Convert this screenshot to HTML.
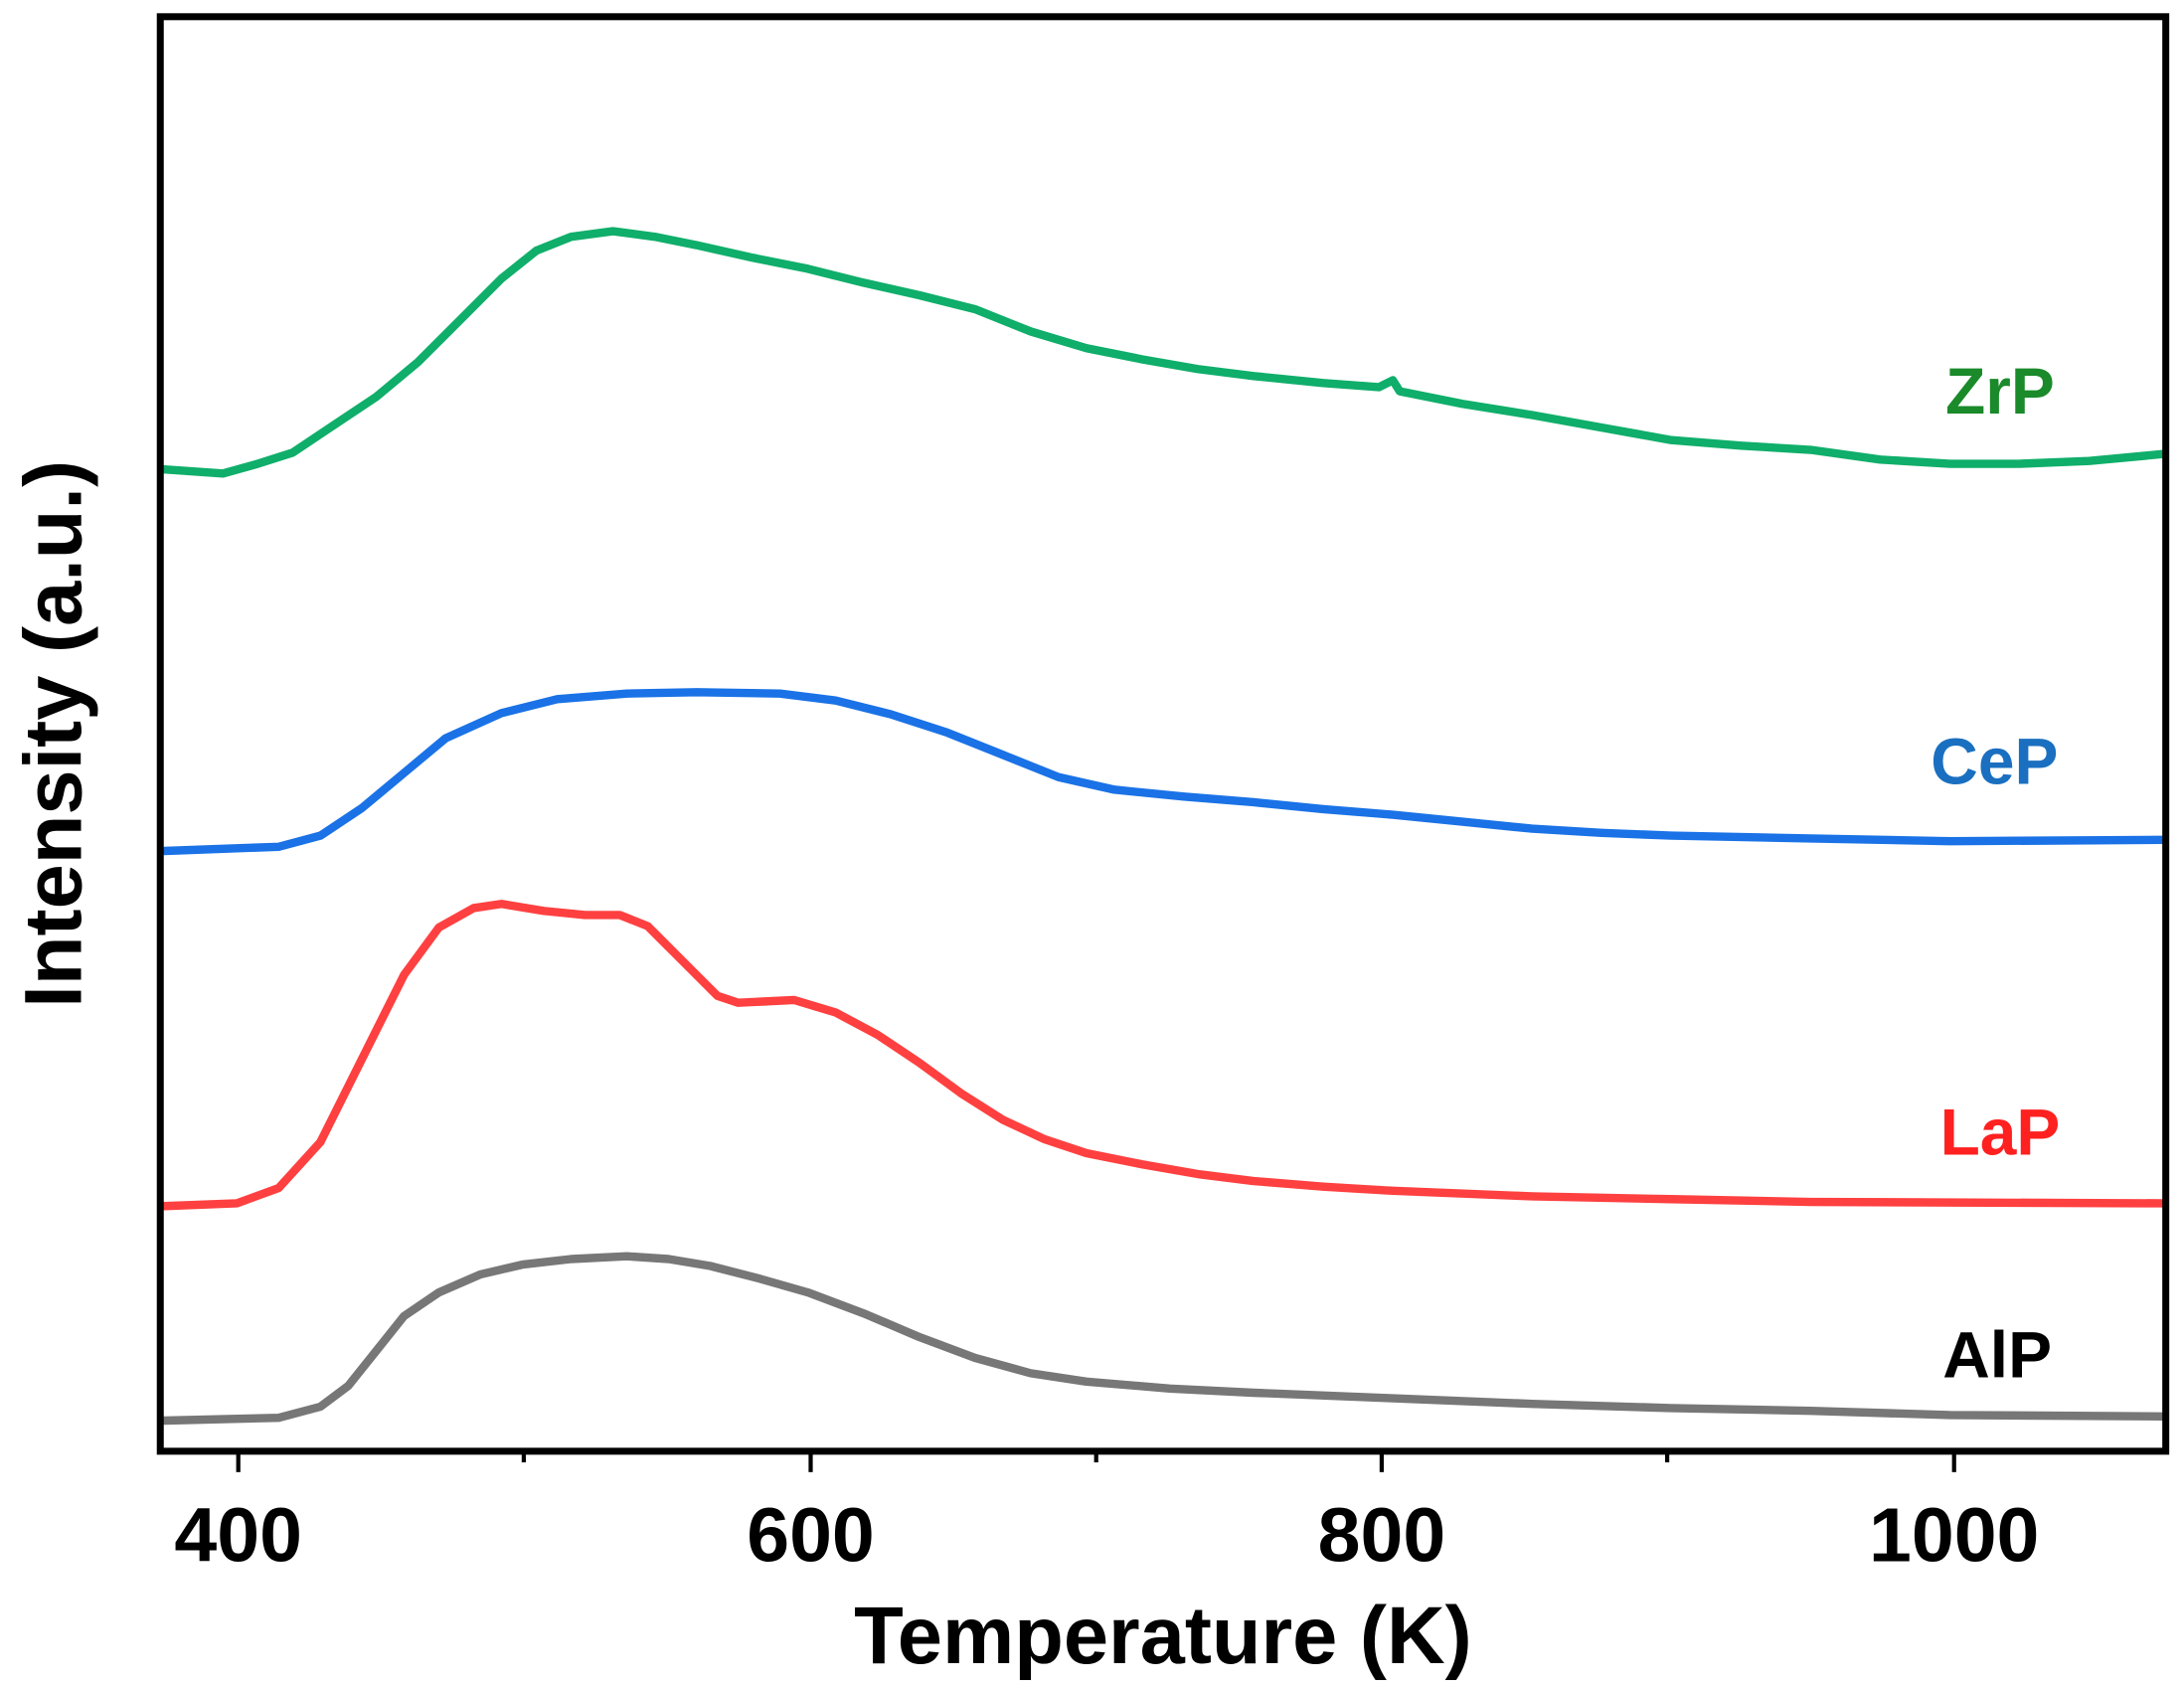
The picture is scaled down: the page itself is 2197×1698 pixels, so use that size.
<!DOCTYPE html>
<html><head><meta charset="utf-8"><style>html,body{margin:0;padding:0;background:#fff}svg{display:block}</style></head>
<body>
<svg width="2197" height="1698" viewBox="0 0 1568 1212" xmlns="http://www.w3.org/2000/svg" font-family="Liberation Sans, Arial, sans-serif" font-weight="bold">
<rect width="1568" height="1212" fill="#fff"/>
<g fill="none" stroke-width="6" stroke-linejoin="round" stroke-linecap="round">
<polyline stroke="#0fae6a" points="118,337 160,340 185,333 210,325 240,305 270,285 300,260 330,230 360,200 385,180 410,170 440,166 470,170 500,176 540,185 580,193 620,203 660,212 700,222 740,238 780,250 820,258 860,265 900,270 950,275 990,278 1000,273 1005,281 1050,290 1100,298 1150,307 1200,316 1250,320 1300,323 1350,330 1400,333 1450,333 1500,331 1553,326"/>
<polyline stroke="#1a72e6" points="118,611 200,608 230,600 260,580 290,555 320,530 360,512 400,502 450,498 500,497 560,498 600,503 640,513 680,526 720,542 760,558 800,567 850,572 900,576 950,581 1000,585 1050,590 1100,595 1150,598 1200,600 1300,602 1400,604 1553,603"/>
<polyline stroke="#ff4040" points="118,866 170,864 200,853 230,820 260,760 290,700 315,666 340,652 360,649 390,654 420,657 445,657 465,665 490,690 515,715 530,720 570,718 600,727 630,743 660,763 690,785 720,804 750,818 780,828 820,836 860,843 900,848 950,852 1000,855 1100,859 1200,861 1300,863 1553,864"/>
<polyline stroke="#777" points="118,1020 200,1018 230,1010 250,995 270,970 290,945 315,928 345,915 375,908 410,904 450,902 480,904 510,909 545,918 580,928 620,943 660,960 700,975 740,986 780,992 840,997 900,1000 1000,1004 1100,1008 1200,1011 1300,1013 1400,1016 1553,1017"/>
</g>
<rect x="115" y="12" width="1440" height="1030" fill="none" stroke="#000" stroke-width="5"/>
<g stroke="#000" stroke-width="3">
<line x1="171" y1="1042" x2="171" y2="1057"/><line x1="582" y1="1042" x2="582" y2="1057"/><line x1="992" y1="1042" x2="992" y2="1057"/><line x1="1403" y1="1042" x2="1403" y2="1057"/>
<line x1="376" y1="1042" x2="376" y2="1050"/><line x1="787" y1="1042" x2="787" y2="1050"/><line x1="1197" y1="1042" x2="1197" y2="1050"/>
</g>
<g font-size="55" text-anchor="middle" fill="#000">
<text x="171" y="1121">400</text><text x="582" y="1121">600</text><text x="992" y="1121">800</text><text x="1403" y="1121">1000</text>
</g>
<text x="835" y="1194" font-size="58" text-anchor="middle">Temperature (K)</text>
<text transform="translate(58,527) rotate(-90)" font-size="58" text-anchor="middle">Intensity (a.u.)</text>
<g font-size="47" text-anchor="middle">
<text x="1436" y="297" fill="#1a8a2a">ZrP</text>
<text x="1432" y="563" fill="#1a6fc0">CeP</text>
<text x="1436" y="829" fill="#ff2020">LaP</text>
<text x="1434" y="989" fill="#000">AlP</text>
</g>
</svg>
</body></html>
